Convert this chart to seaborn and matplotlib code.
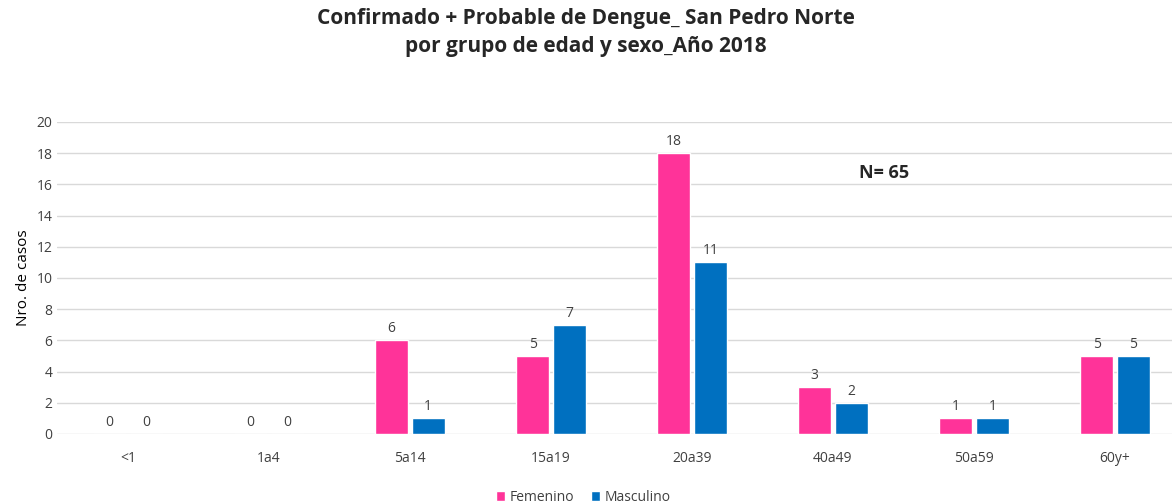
import pandas as pd
import matplotlib
matplotlib.use("Agg")
import matplotlib.pyplot as plt
import seaborn as sns

# --- data ---
age_groups = ["<1", "1a4", "5a14", "15a19", "20a39", "40a49", "50a59", "60y+"]
femenino = [0, 0, 6, 5, 18, 3, 1, 5]
masculino = [0, 0, 1, 7, 11, 2, 1, 5]
sexes = ["Femenino", "Masculino"]
colors = ["#FF3399", "#0070C0"]

df = pd.DataFrame({
    "grupo": age_groups * 2,
    "sexo": ["Femenino"] * len(age_groups) + ["Masculino"] * len(age_groups),
    "casos": femenino + masculino,
})

sns.set_theme(style="white")
plt.rcParams["font.family"] = ["Open Sans", "DejaVu Sans"]

fig = plt.figure(figsize=(11.72, 5.04), dpi=100)
# plot area runs past the right edge, like the original export
ax = fig.add_axes([0.049, 0.139, 0.9625, 0.619])

sns.barplot(data=df, x="grupo", y="casos", hue="sexo", hue_order=sexes,
            palette=colors, width=0.52, gap=0.1, ax=ax, legend=True,
            saturation=1)

for cont in ax.containers:
    ax.bar_label(cont, fontsize=10, color="#404040", padding=3)

ax.set_ylim(0, 20)
ax.set_yticks(range(0, 21, 2))
ax.yaxis.grid(True, color="#D9D9D9", linewidth=1)
ax.set_axisbelow(True)
for s in ["top", "right", "left", "bottom"]:
    ax.spines[s].set_visible(False)
ax.tick_params(axis="both", labelsize=10, colors="#404040", length=0)
ax.tick_params(axis="x", pad=12)
ax.set_xlabel("")
ax.set_ylabel("Nro. de casos", fontsize=11, color="black", labelpad=4)

ax.text(5.36, 16.75, "N= 65", fontsize=13, fontweight="bold", ha="center", va="center")

fig.suptitle("Confirmado + Probable de Dengue_ San Pedro Norte\npor grupo de edad y sexo_Año 2018",
             fontsize=15, fontweight="bold", y=0.985, linespacing=1.45)

ax.legend(loc="upper center", bbox_to_anchor=(0.466, -0.14), ncol=2, frameon=False,
          fontsize=10, handlelength=0.7, handleheight=0.7, handletextpad=0.3,
          columnspacing=1.2, labelcolor="#404040",
          bbox_transform=ax.transAxes)

fig.savefig("out.png", dpi=100)
